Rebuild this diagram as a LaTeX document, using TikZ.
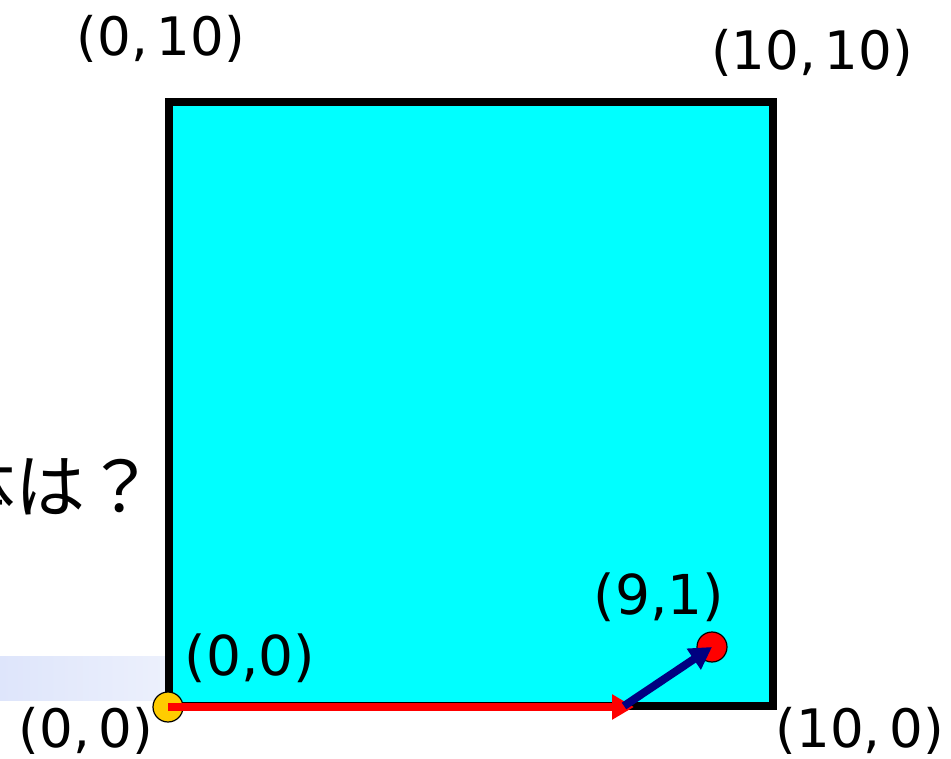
\documentclass[tikz,border=0pt]{standalone}
\usepackage{fontspec}
\setmainfont{DejaVu Sans}
\newfontfamily\cjkfont{Noto Sans CJK JP}
\usetikzlibrary{arrows.meta}
\definecolor{sqcyan}{RGB}{0,255,255}
\definecolor{barL}{RGB}{222,229,251}
\definecolor{barR}{RGB}{236,240,252}
\definecolor{dotyellow}{RGB}{255,204,0}
\definecolor{navyarrow}{RGB}{0,0,128}
\tikzset{
  lbl/.style={inner sep=0pt, font=\fontsize{53}{60}\selectfont},
  ilbl/.style={inner sep=0pt, font=\fontsize{55}{62}\selectfont},
  dot/.style={circle, draw=black, line width=1.2pt, minimum size=30pt, inner sep=0pt},
  vec/.style={line width=8pt, -{Triangle[length=22pt,width=24pt]}},
}
\begin{document}
\begin{tikzpicture}[x=1pt,y=-1pt]
\clip (0,0) rectangle (951,759);
\fill[white] (0,0) rectangle (951,759);
\shade[left color=barL, right color=barR] (0,656) rectangle (165,700);
\node[inner sep=0pt, anchor=east, font=\cjkfont\fontsize{70}{78}\selectfont] (q) at (156,486) {体は？};
\node[draw=black, fill=sqcyan, line width=7.5pt, line join=miter, inner sep=0pt,
      minimum width=604pt, minimum height=604pt] (sq) at (471,404) {};
\node[lbl] (l010) at (161,39) {(0,\,10)};
\node[lbl] (l1010) at (812,53) {(10,\,10)};
\node[lbl] (l00) at (86,731) {(0,\,0)};
\node[lbl] (l100) at (860,731) {(10,\,0)};
\node[ilbl] (i00) at (250,658) {(0,0)};
\node[ilbl] (i91) at (659,597) {(9,1)};
\node[dot, fill=dotyellow] (Y) at (168,707) {};
\coordinate (T) at (634,707);
\coordinate (B) at (624,706);
\draw[vec, red] (Y.center) -- (T);
\node[dot, fill=red] (R) at (712,647) {};
\draw[vec, navyarrow] (B) -- (R.center);
\end{tikzpicture}
\end{document}
